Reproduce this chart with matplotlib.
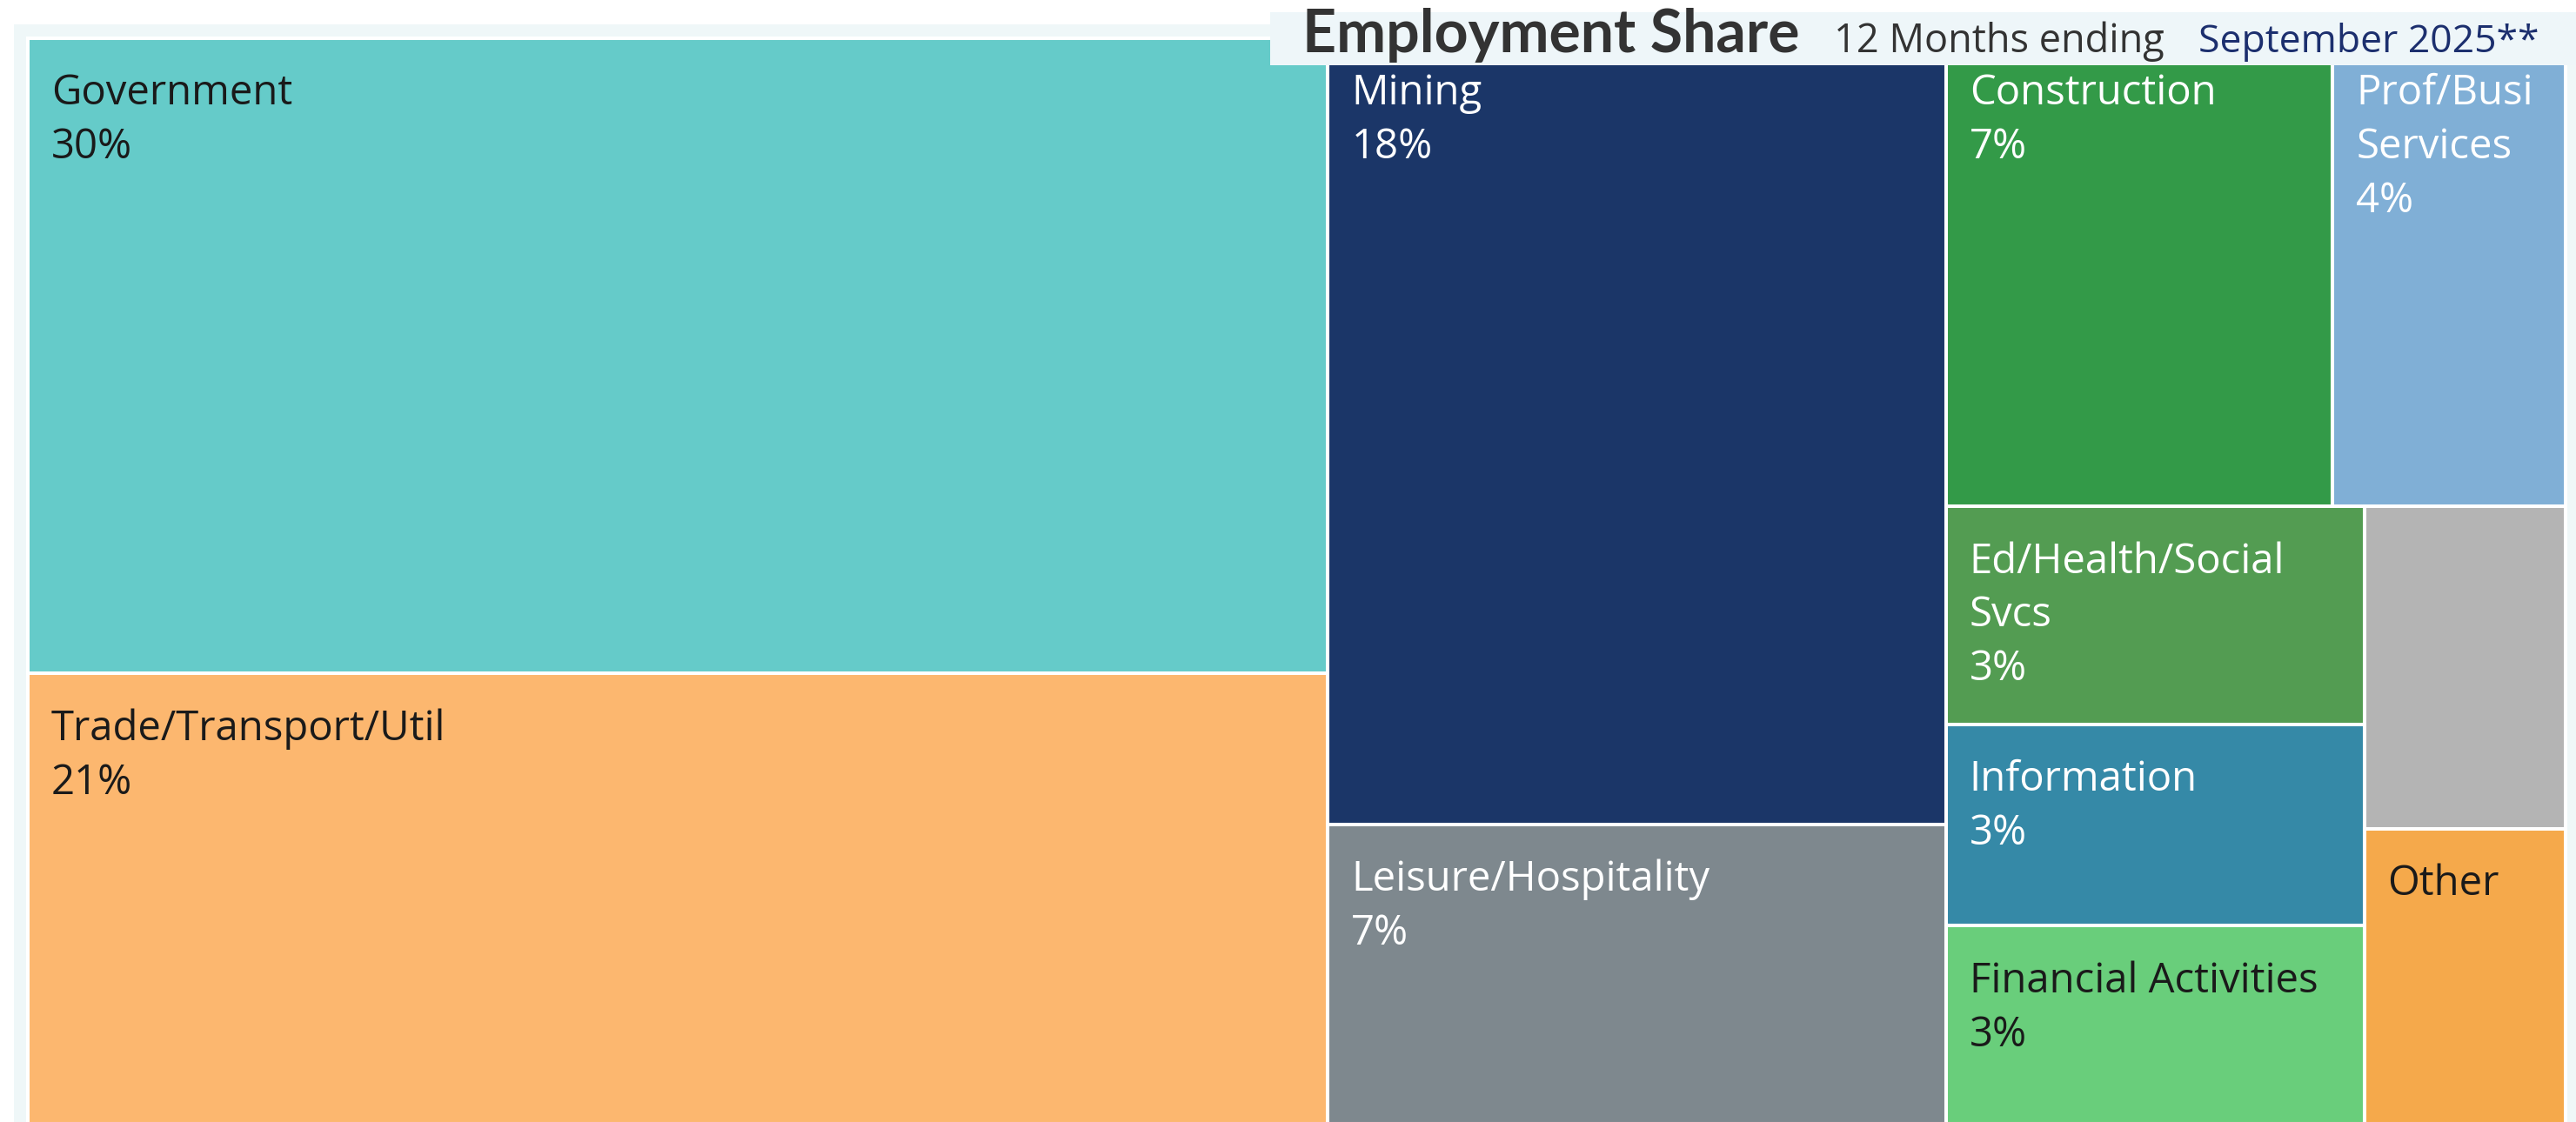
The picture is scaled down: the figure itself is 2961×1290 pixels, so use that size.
import matplotlib.pyplot as plt
from matplotlib.patches import Rectangle

# Employment share by industry, 12 months ending September 2025 (percent)
industries = ["Government", "Trade/Transport/Util", "Mining", "Leisure/Hospitality",
              "Construction", "Prof/Busi Services", "Ed/Health/Social Svcs",
              "Information", "Financial Activities", "Unlabeled", "Other"]
labels = ["Government", "Trade/Transport/Util", "Mining", "Leisure/Hospitality",
          "Construction", "Prof/Busi\nServices", "Ed/Health/Social\nSvcs",
          "Information", "Financial Activities", "", "Other"]
share = [29.9, 21.2, 17.6, 6.7, 6.55, 3.95, 3.3, 3.05, 3.0, 2.35, 2.15]
pct_labels = ["30%", "21%", "18%", "7%", "7%", "4%", "3%", "3%", "3%", "", ""]

colors = ["#65cbc9", "#fcb76f", "#1b3668", "#7e888e", "#339a48", "#80afd6",
          "#539c52", "#3589a7", "#69ce7b", "#b4b4b4", "#f5a94b"]
text_colors = ["#1a1a1a", "#1a1a1a", "white", "white", "white", "white",
               "white", "white", "#1a1a1a", "#1a1a1a", "#1a1a1a"]

# nesting of the treemap: even depth splits across, odd depth splits down
groups = [[0, 1], [2, 3], [[4, 5], [[6, 7, 8], [9, 10]]]]


def total(node):
    if isinstance(node, int):
        return share[node]
    return sum(total(c) for c in node)


def layout(node, x, y, w, h, depth, out):
    if isinstance(node, int):
        out[node] = (x, y, w, h)
        return
    t = total(node)
    pos = 0.0
    for child in node:
        f = total(child) / t
        if depth % 2 == 0:
            layout(child, x + pos * w, y, w * f, h, depth + 1, out)
        else:
            layout(child, x, y + pos * h, w, h * f, depth + 1, out)
        pos += f


W, H = 2961, 1290
fig = plt.figure(figsize=(W / 100, H / 100), dpi=100)
fig.patch.set_facecolor("white")

# light dashboard frame behind everything
fig.add_artist(Rectangle((16 / W, 0), 1 - 16 / W, 1 - 28 / H, transform=fig.transFigure,
                         facecolor="#eff7f8", edgecolor="none", zorder=-1))

ax = fig.add_axes([32 / W, -2 / H, (2949 - 32) / W, (1292 - 44) / H])
ax.set_xlim(0, 1)
ax.set_ylim(1, 0)
ax.axis("off")

rects = {}
layout(groups, 0, 0, 1, 1, 0, rects)

label_font = "Open Sans"
for i in range(len(share)):
    x, y, w, h = rects[i]
    ax.add_patch(Rectangle((x, y), w, h, facecolor=colors[i], edgecolor="white",
                           linewidth=2.9, clip_on=False))
    lines = [s for s in labels[i].split("\n") if s] + ([pct_labels[i]] if pct_labels[i] else [])
    for k, line in enumerate(lines):
        ax.annotate(line, xy=(x, y), xytext=(19.4, -(55 + 44.6 * k)),
                    textcoords="offset points", ha="left", va="baseline",
                    fontsize=34, family=label_font, color=text_colors[i])

# title box overlaying the top right of the treemap
fig.add_artist(Rectangle((1460 / W, 1 - 75 / H), (W - 1460) / W, 61 / H,
                         transform=fig.transFigure, facecolor="#eef6f9",
                         edgecolor="none", zorder=5))
base_y = 1 - 60 / H
fig.text(1497 / W, base_y, "Employment Share", fontsize=49, fontweight="bold",
         family="Lato", color="#333333", ha="left", va="baseline", zorder=6)
fig.text(2108 / W, base_y, "12 Months ending", fontsize=32.5, family="Open Sans",
         color="#333333", ha="left", va="baseline", zorder=6)
fig.text(2527 / W, base_y, "September 2025**", fontsize=32, family="Open Sans",
         color="#1c2f6e", ha="left", va="baseline", zorder=6)

fig.savefig("out.png", dpi=100, facecolor=fig.get_facecolor())
